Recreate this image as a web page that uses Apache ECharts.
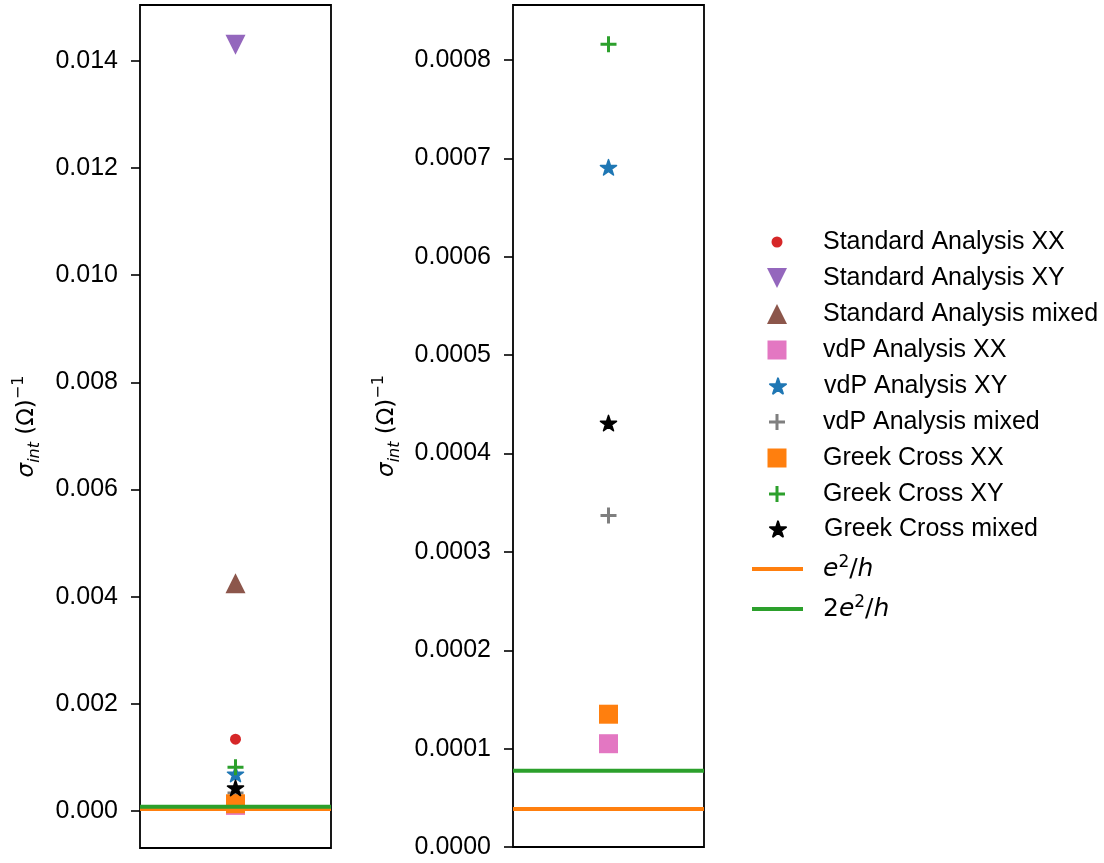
<!DOCTYPE html>
<html>
<head>
<meta charset="utf-8">
<script src="https://cdn.jsdelivr.net/npm/echarts@6/dist/echarts.min.js"></script>
<style>
  html, body { margin: 0; padding: 0; background: #ffffff; }
  #chart { width: 1104px; height: 863px; }
</style>
</head>
<body>
<div id="chart"></div>
<script>
// Measured intrinsic conductivity, one point per analysis method
const seriesNames = [
  'Standard Analysis XX', 'Standard Analysis XY', 'Standard Analysis mixed',
  'vdP Analysis XX', 'vdP Analysis XY', 'vdP Analysis mixed',
  'Greek Cross XX', 'Greek Cross XY', 'Greek Cross mixed'
];
const conductivity = [0.00134, 0.0143, 0.00425, 0.000105, 0.000691, 0.000337, 0.000135, 0.000816, 0.000431];
// the zoomed panel leaves out the standard analysis points
const zoomedPanel = [false, false, false, true, true, true, true, true, true];

// conductance quanta
const quantumNames = ['e2h', '2e2h'];
const quantumValues = [3.874e-5, 7.748e-5];

// tick labels
const leftTicks = [0, 0.002, 0.004, 0.006, 0.008, 0.010, 0.012, 0.014];
const rightTicks = [0, 0.0001, 0.0002, 0.0003, 0.0004, 0.0005, 0.0006, 0.0007, 0.0008];

// marker look per series
const markerColors = ['#d62728', '#9467bd', '#8c564b', '#e377c2', '#1f77b4', '#7f7f7f', '#ff7f0e', '#2ca02c', '#000000'];
const STAR = 'path://M50 0 L61.23 34.55 L97.55 34.55 L68.17 55.9 L79.39 90.45 L50 69.1 L20.61 90.45 L31.83 55.9 L2.45 34.55 L38.77 34.55 Z';
const PLUS = 'path://M6.5 0 H9.5 V6.5 H16 V9.5 H9.5 V16 H6.5 V9.5 H0 V6.5 H6.5 Z';
const DOWN = 'path://M0 0 L2 0 L1 2 Z';
const markerShapes = ['circle', DOWN, 'triangle', 'rect', STAR, PLUS, 'rect', PLUS, STAR];
const markerSizes = [11, 20, 20, 19, 16, 16, 19, 16, 16];
const markerEdges = [0, 0, 0, 0, 1.6, 0, 0, 0, 1.6];
const quantumColors = ['#ff7f0e', '#2ca02c'];

const chart = echarts.init(document.getElementById('chart'), null, { renderer: 'canvas' });

const tickFont = { fontFamily: 'Liberation Sans, Arial, sans-serif', fontSize: 25, color: '#000' };
const titleRich = {
  g: { fontFamily: 'DejaVu Sans', fontStyle: 'italic', fontSize: 23, lineHeight: 32, verticalAlign: 'middle', color: '#000' },
  sub: { fontFamily: 'DejaVu Sans', fontStyle: 'italic', fontSize: 16, lineHeight: 15, verticalAlign: 'bottom', color: '#000' },
  t: { fontFamily: 'DejaVu Sans', fontSize: 23, lineHeight: 32, verticalAlign: 'middle', color: '#000' },
  sup: { fontFamily: 'DejaVu Sans', fontSize: 16, lineHeight: 15, verticalAlign: 'top', color: '#000' }
};
const axisTitle = '{g|σ}{sub|int}{t| (Ω)}{sup|−1}';

function yAxisFor(gridIndex, min, max, ticks, digits, gap) {
  return {
    type: 'value', gridIndex, min, max,
    name: axisTitle, nameLocation: 'middle', nameRotate: 90, nameGap: gap,
    nameTextStyle: { rich: titleRich },
    axisLine: { show: false, onZero: false },
    axisTick: { show: true, length: 9, customValues: ticks, lineStyle: { color: '#000', width: 1.6 } },
    axisLabel: { customValues: ticks, margin: 22, formatter: v => v.toFixed(digits), ...tickFont },
    splitLine: { show: false }
  };
}

function xAxisFor(gridIndex) {
  return { type: 'value', gridIndex, min: -1, max: 1, show: false, axisLine: { onZero: false } };
}

const series = [];
[0, 1].forEach(panel => {
  seriesNames.forEach((name, i) => {
    if (panel === 1 && !zoomedPanel[i]) return;
    series.push({
      type: 'scatter', name, xAxisIndex: panel, yAxisIndex: panel,
      data: [[0, conductivity[i]]],
      symbol: markerShapes[i], symbolSize: markerSizes[i], symbolKeepAspect: true,
      itemStyle: { color: markerColors[i], opacity: 1, borderColor: markerColors[i], borderWidth: markerEdges[i], borderJoin: 'round' },
      emphasis: { disabled: true }, silent: true
    });
  });
  quantumNames.forEach((name, i) => {
    series.push({
      type: 'line', name, xAxisIndex: panel, yAxisIndex: panel,
      data: [[-1, quantumValues[i]], [1, quantumValues[i]]],
      symbol: 'none', showSymbol: false,
      lineStyle: { color: quantumColors[i], width: 4 },
      itemStyle: { color: quantumColors[i] },
      emphasis: { disabled: true }, silent: true
    });
  });
});

// legend rows, one component per row so each marker keeps its own size
const legendText = { fontFamily: 'Liberation Sans, Arial, sans-serif', fontSize: 25, color: '#000', lineHeight: 30 };
const rowCenters = [242, 278, 314, 350, 386, 422, 458, 494, 529];
const lineRowCenters = [569, 609];
const legends = [];
seriesNames.forEach((name, i) => {
  const s = markerSizes[i];
  legends.push({
    data: [name], orient: 'vertical', left: 777 - s / 2, top: rowCenters[i] - 15,
    padding: 0, itemWidth: s, itemHeight: s, selectedMode: false,
    textStyle: { ...legendText, padding: [0, 0, 0, 41 - s / 2] }
  });
});
const mathRich = {
  m: { fontFamily: 'DejaVu Sans', fontStyle: 'italic', fontSize: 25, lineHeight: 30, verticalAlign: 'middle', color: '#000' },
  n: { fontFamily: 'DejaVu Sans', fontSize: 25, lineHeight: 30, verticalAlign: 'middle', color: '#000' },
  s: { fontFamily: 'DejaVu Sans', fontSize: 17, lineHeight: 17, verticalAlign: 'top', color: '#000' }
};
const mathLabels = { e2h: '{m|e}{s|2}{n|/}{m|h}', '2e2h': '{n|2}{m|e}{s|2}{n|/}{m|h}' };
quantumNames.forEach((name, i) => {
  legends.push({
    data: [{ name, icon: 'rect' }], orient: 'vertical', left: 752, top: lineRowCenters[i] - 15,
    padding: 0, itemWidth: 51, itemHeight: 4, selectedMode: false,
    formatter: n => mathLabels[n],
    textStyle: { ...legendText, padding: [0, 0, 0, 15], rich: mathRich }
  });
});

chart.setOption({
  backgroundColor: '#ffffff',
  animation: false,
  grid: [
    { left: 140, top: 5, width: 191, height: 843, show: true, borderColor: '#000', borderWidth: 1.8, backgroundColor: '#fff' },
    { left: 513, top: 5, width: 191, height: 842, show: true, borderColor: '#000', borderWidth: 1.8, backgroundColor: '#fff' }
  ],
  xAxis: [xAxisFor(0), xAxisFor(1)],
  yAxis: [
    yAxisFor(0, -0.00069, 0.01504, leftTicks, 3, 97),
    yAxisFor(1, 0, 0.000856, rightTicks, 4, 110)
  ],
  legend: legends,
  series
});
</script>
</body>
</html>
